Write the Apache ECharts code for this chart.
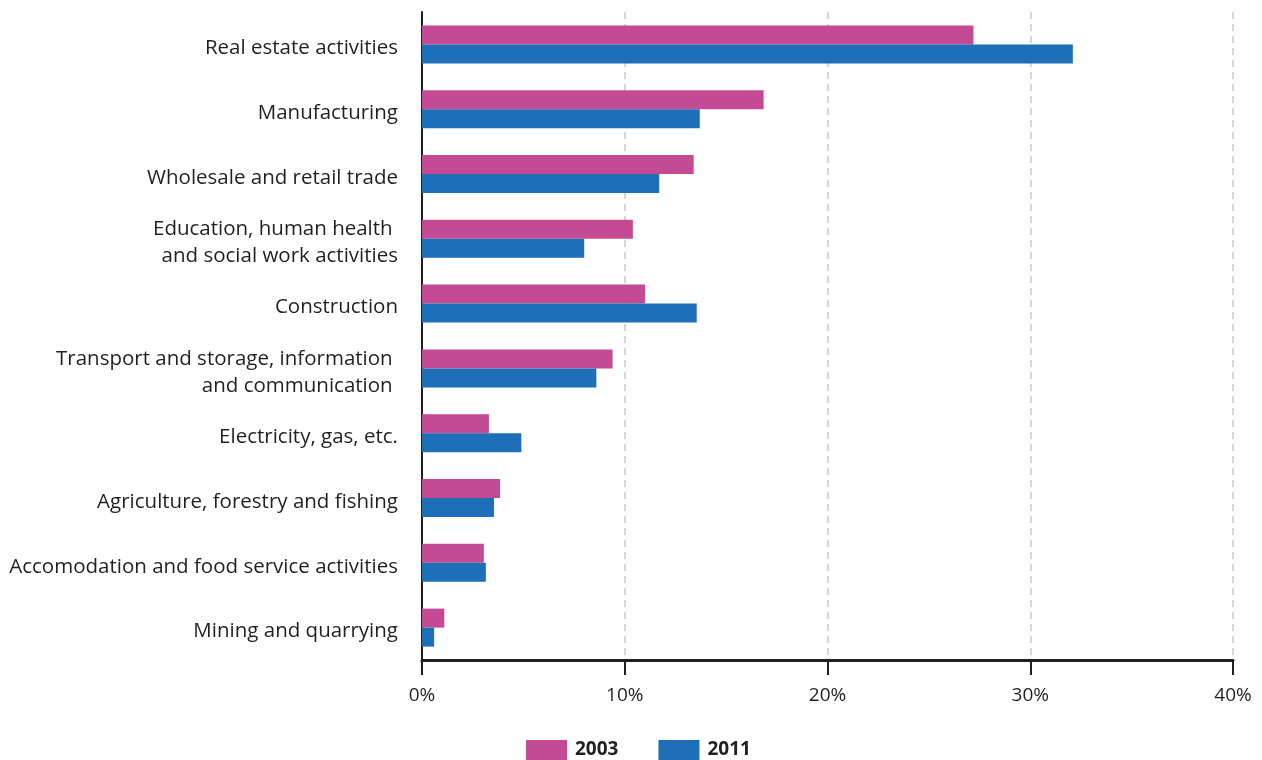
<!DOCTYPE html>
<html><head><meta charset="utf-8">
<script src="https://cdn.jsdelivr.net/npm/echarts@6/dist/echarts.min.js"></script>
<style>html,body{margin:0;padding:0;background:#fff}#c{width:1262px;height:760px}</style>
</head><body><div id="c"></div>
<script>
var categories = [
  "Real estate activities",
  "Manufacturing",
  "Wholesale and retail trade",
  "Education, human health \nand social work activities",
  "Construction",
  "Transport and storage, information \nand communication ",
  "Electricity, gas, etc.",
  "Agriculture, forestry and fishing",
  "Accomodation and food service activities",
  "Mining and quarrying"
];
var values2003 = [27.2, 16.85, 13.4, 10.4, 11.0, 9.4, 3.3, 3.85, 3.05, 1.1];
var values2011 = [32.1, 13.7, 11.7, 8.0, 13.55, 8.6, 4.9, 3.55, 3.15, 0.6];
var xTicks = [0, 10, 20, 30, 40];

var FONT = "Open Sans";
var chart = echarts.init(document.getElementById('c'), null, {renderer: 'canvas'});
chart.setOption({
  animation: false,
  textStyle: {fontFamily: FONT},
  grid: {left: 422, right: 29, top: 12, bottom: 100, containLabel: false},
  legend: {
    bottom: 0, left: 526, padding: 0,
    itemWidth: 41, itemHeight: 20, itemGap: 40,
    icon: 'rect',
    textStyle: {fontFamily: FONT, fontWeight: 'bold', fontSize: 19, color: '#231f20', padding: [0,0,0,3]},
    data: ['2003', '2011']
  },
  xAxis: {
    type: 'value', min: xTicks[0], max: xTicks[xTicks.length-1], interval: 10,
    axisLine: {show: true, onZero: false, lineStyle: {color: '#231f20', width: 3}},
    axisTick: {show: true, length: 15, lineStyle: {color: '#231f20', width: 2}},
    axisLabel: {formatter: '{value}%', fontSize: 19, color: '#231f20', margin: 26, fontFamily: FONT},
    splitLine: {show: true, lineStyle: {color: '#c8c8c8', width: 1.5, type: [7, 5]}}
  },
  yAxis: {
    type: 'category', data: categories, inverse: true,
    axisLine: {show: true, lineStyle: {color: '#231f20', width: 2}},
    axisTick: {show: false},
    axisLabel: {
      margin: 24, color: '#231f20', fontSize: 20.5, lineHeight: 27, fontFamily: FONT,
      formatter: function (v) {
        return v.split('\n').map(function (s) { return '{a|' + s + '}'; }).join('\n');
      },
      rich: {a: {fontSize: 20.5, lineHeight: 27, color: '#231f20', fontFamily: FONT, padding: [8, 0, 0, 0]}}
    },
    splitLine: {show: false}
  },
  series: [
    {name: '2003', type: 'bar', data: values2003, barWidth: 19, barGap: '0%', itemStyle: {color: '#c44b93'}},
    {name: '2011', type: 'bar', data: values2011, barWidth: 19, barGap: '0%', itemStyle: {color: '#1f6fb8'}}
  ]
});
</script></body></html>
